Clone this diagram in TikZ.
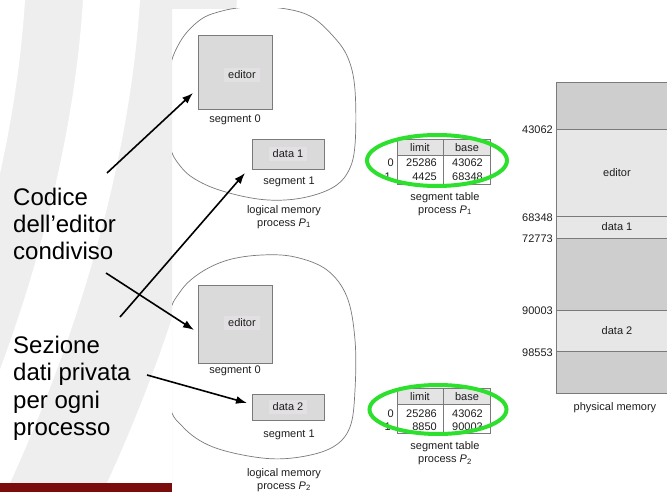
\documentclass[tikz,border=0pt]{standalone}
\usepackage{fontspec}
\setmainfont{Liberation Sans}
\usetikzlibrary{arrows.meta,calc}

\definecolor{panelgrey}{HTML}{EEEEEE}
\definecolor{boxgrey}{HTML}{DADADA}
\definecolor{labelgrey}{HTML}{E2E0E2}
\definecolor{freegrey}{HTML}{CECECE}
\definecolor{usedgrey}{HTML}{E7E7E7}
\definecolor{headgrey}{HTML}{E4E4E4}
\definecolor{edgegrey}{HTML}{7A7A7A}
\definecolor{hilite}{HTML}{2EE02E}
\definecolor{barred}{HTML}{7B0C0C}
\definecolor{inkgrey}{HTML}{1E1E1E}

\tikzset{
  small/.style={font=\fontsize{11}{13}\selectfont, text=inkgrey, inner sep=0pt},
  bigtext/.style={font=\fontsize{24}{27.5}\selectfont, text=black, inner sep=0pt, anchor=base west},
  segbox/.style={draw=edgegrey, fill=boxgrey, line width=0.6pt, inner sep=0pt, outer sep=0pt},
  seglabel/.style={small, fill=labelgrey, inner xsep=4pt, inner ysep=3pt},
  blob/.style={draw=edgegrey, line width=0.7pt},
  cell/.style={draw=edgegrey, line width=0.6pt, inner sep=0pt, outer sep=0pt},
  memblk/.style={draw=edgegrey, line width=0.7pt, minimum width=122pt, inner sep=0pt, outer sep=0pt, small},
  addr/.style={small, anchor=east},
  ring/.style={draw=hilite, line width=4pt},
  pointer/.style={line width=1.6pt, -{Latex[length=11pt,width=8pt]}},
  % one light swoosh of the slide background, between two top abscissae
  swoosh/.style 2 args={insert path={
    (#1,0) .. controls (#1-10,160) and (#1-60,330) .. (#1-130,483)
    -- (#2-130,483) .. controls (#2-60,330) and (#2-10,160) .. (#2,0) -- cycle}},
}

\begin{document}
\begin{tikzpicture}[x=1pt,y=-1pt]
\useasboundingbox (0,0) rectangle (667,492);

% slide background: grey panel crossed by white swooshes
\fill[white] (0,0) rectangle (667,492);
\begin{scope}
  \clip (0,0) rectangle (172,483) (172,0) rectangle (667,9);
  \fill[panelgrey] (0,0) rectangle (667,483);
  \fill[white, swoosh={-200}{25}];
  \fill[white, swoosh={83}{140}];
  \fill[white, swoosh={237}{700}];
\end{scope}
\fill[barred] (0,483) rectangle (172,492);

% logical memory outlines
\begin{scope}
  \clip (172,9) rectangle (667,492);
  \draw[blob] plot[smooth cycle, tension=0.6] coordinates {
    (248,7) (280,8) (310,16) (333,36) (348,58) (355,90) (355,145) (348,172)
    (332,188) (302,198) (268,200) (233,194) (202,183) (181,167) (169,140)
    (169,75) (180,42) (200,20) (222,11)};
  \draw[blob] plot[smooth cycle, tension=0.6] coordinates {
    (262,255) (295,257) (327,270) (347,297) (355,340) (355,390) (350,427)
    (333,447) (300,457) (262,458) (213,447) (183,427) (169,400) (169,320)
    (180,292) (200,273) (228,260)};
\end{scope}

% process P1: segments
\node[segbox, minimum width=74pt, minimum height=74pt] (ed1) at (235,72) {};
\node[seglabel] (ed1l) at (242,75) {editor};
\node[small, anchor=base] (sg10) at (235,123) {segment 0};
\node[segbox, minimum width=72pt, minimum height=30pt] (d1) at (288,154) {};
\node[seglabel] (d1l) at (288,154) {data 1};
\node[small, anchor=base] (sg11) at (289,185) {segment 1};
\node[small, align=center] (lm1) at (284,217)
  {logical memory\\process {\itshape P}\textsubscript{1}};

% process P2: segments
\node[segbox, minimum width=74pt, minimum height=78pt] (ed2) at (235,324) {};
\node[seglabel] (ed2l) at (242,323) {editor};
\node[small, anchor=base] (sg20) at (235,373) {segment 0};
\node[segbox, minimum width=72pt, minimum height=26pt] (d2) at (288,407) {};
\node[seglabel] (d2l) at (288,407) {data 2};
\node[small, anchor=base] (sg21) at (289,437) {segment 1};
\node[small, align=center] (lm2) at (284,480)
  {logical memory\\process {\itshape P}\textsubscript{2}};

% segment table of P1
\node[cell, fill=headgrey, minimum width=46pt, minimum height=16pt] (t1h1) at (420,147) {};
\node[cell, fill=headgrey, minimum width=47pt, minimum height=16pt] (t1h2) at (466.5,147) {};
\node[cell, minimum width=46pt, minimum height=29pt] (t1b1) at (420,169.5) {};
\node[cell, minimum width=47pt, minimum height=29pt] (t1b2) at (466.5,169.5) {};
\node[small, anchor=base] (t1lim) at (420,151.5) {limit};
\node[small, anchor=base] (t1base) at (467,151.5) {base};
\node[small, anchor=base east] (t1r0) at (394,167) {0};
\node[small, anchor=base east] (t1r1) at (391,181) {1};
\node[small, anchor=base east] (t1a) at (437,167) {25286};
\node[small, anchor=base east] (t1b) at (483,167) {43062};
\node[small, anchor=base east] (t1c) at (437,181) {4425};
\node[small, anchor=base east] (t1d) at (483,181) {68348};
\node[small, align=center] (st1) at (445,204)
  {segment table\\process {\itshape P}\textsubscript{1}};
\draw[ring] (437,160.5) ellipse [x radius=70, y radius=25.5];

% segment table of P2
\node[cell, fill=headgrey, minimum width=46pt, minimum height=16pt] (t2h1) at (420,396) {};
\node[cell, fill=headgrey, minimum width=47pt, minimum height=16pt] (t2h2) at (466.5,396) {};
\node[cell, minimum width=46pt, minimum height=29pt] (t2b1) at (420,418.5) {};
\node[cell, minimum width=47pt, minimum height=29pt] (t2b2) at (466.5,418.5) {};
\node[small, anchor=base] (t2lim) at (420,400.5) {limit};
\node[small, anchor=base] (t2base) at (467,400.5) {base};
\node[small, anchor=base east] (t2r0) at (394,417) {0};
\node[small, anchor=base east] (t2r1) at (391,430) {1};
\node[small, anchor=base east] (t2a) at (437,417) {25286};
\node[small, anchor=base east] (t2b) at (483,417) {43062};
\node[small, anchor=base east] (t2c) at (437,430) {8850};
\node[small, anchor=base east] (t2d) at (483,430) {90003};
\node[small, align=center] (st2) at (445,453.5)
  {segment table\\process {\itshape P}\textsubscript{2}};
\draw[ring] (438,409.5) ellipse [x radius=68.5, y radius=24.5];

% physical memory
\node[memblk, fill=freegrey, minimum height=47pt] (pm0) at (617,105.5) {};
\node[memblk, fill=usedgrey, minimum height=87pt] (pm1) at (617,172.5) {editor};
\node[memblk, fill=usedgrey, minimum height=22pt] (pm2) at (617,227) {data 1};
\node[memblk, fill=freegrey, minimum height=72pt] (pm3) at (617,274) {};
\node[memblk, fill=usedgrey, minimum height=41pt] (pm4) at (617,330.5) {data 2};
\node[memblk, fill=freegrey, minimum height=42pt] (pm5) at (617,372) {};
\node[small] (pmcap) at (615,408) {physical memory};
\node[addr] (a1) at (553,130) {43062};
\node[addr] (a2) at (553,218) {68348};
\node[addr] (a3) at (553,239) {72773};
\node[addr] (a4) at (553,311) {90003};
\node[addr] (a5) at (553,353) {98553};

% annotations
\node[bigtext] (codice) at (13,205)
  {\begin{tabular}[t]{@{}l@{}}Codice\\dell’editor\\condiviso\end{tabular}};
\node[bigtext] (sezione) at (13,353)
  {\begin{tabular}[t]{@{}l@{}}Sezione\\dati privata\\per ogni\\processo\end{tabular}};
\coordinate (s1) at (107,173);
\coordinate (s2) at (106,273);
\coordinate (s3) at (120,317);
\coordinate (s4) at (147,375);
\draw[pointer] (s1) -- ([shift={(-5,21)}]ed1.west);
\draw[pointer] (s2) -- ([shift={(-4,6)}]ed2.west);
\draw[pointer] (s3) -- ([shift={(-7,4)}]d1.south west);
\draw[pointer] (s4) -- ([shift={(-5,-4)}]d2.west);
\end{tikzpicture}
\end{document}
